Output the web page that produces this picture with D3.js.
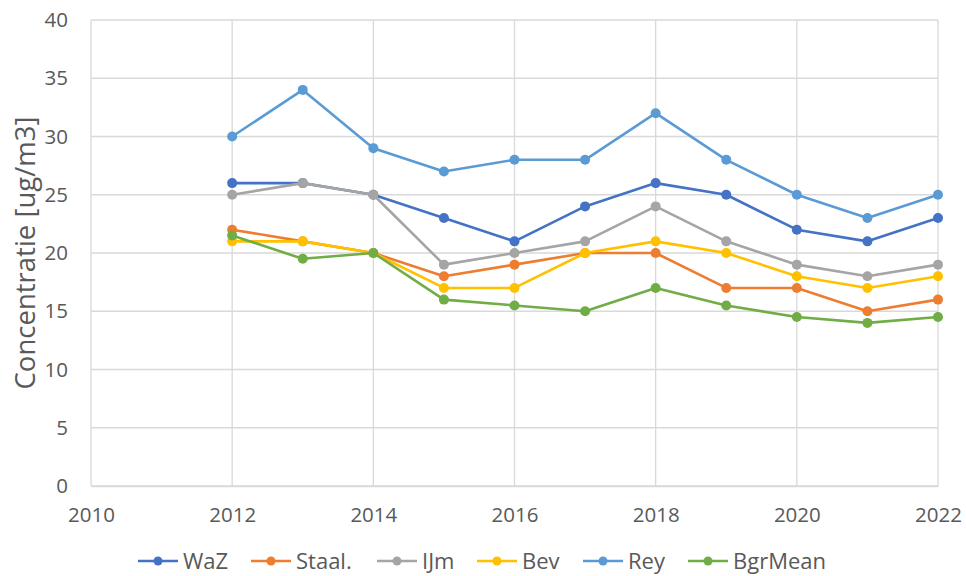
<!DOCTYPE html>
<html><head><meta charset="utf-8">
<script src="https://cdn.jsdelivr.net/npm/d3@7"></script>
<style>body{margin:0;background:#fff}svg{display:block}</style>
</head><body>
<svg id="c" width="966" height="576"></svg>
<script>
const years = [2012,2013,2014,2015,2016,2017,2018,2019,2020,2021,2022];
const seriesNames = ["WaZ","Staal.","IJm","Bev","Rey","BgrMean"];
const WaZ     = [26,26,25,23,21,24,26,25,22,21,23];
const Staal   = [22,21,20,18,19,20,20,17,17,15,16];
const IJm     = [25,26,25,19,20,21,24,21,19,18,19];
const Bev     = [21,21,20,17,17,20,21,20,18,17,18];
const Rey     = [30,34,29,27,28,28,32,28,25,23,25];
const BgrMean = [21.5,19.5,20,16,15.5,15,17,15.5,14.5,14,14.5];
const xTicks = [2010,2012,2014,2016,2018,2020,2022];
const yTicks = [0,5,10,15,20,25,30,35,40];
const colors = ["#4472C4","#ED7D31","#A5A5A5","#FFC000","#5B9BD5","#70AD47"];
const seriesValues = [WaZ,Staal,IJm,Bev,Rey,BgrMean];

const font = "'Open Sans', 'Liberation Sans', sans-serif";
const svg = d3.select("#c");
const L=91, R=938, T=20, B=486;
const x = d3.scaleLinear().domain([2010,2022]).range([L,R]);
const y = d3.scaleLinear().domain([0,40]).range([B,T]);

// gridlines
svg.append("g").selectAll("line").data(yTicks).join("line")
  .attr("x1",L).attr("x2",R).attr("y1",d=>y(d)).attr("y2",d=>y(d))
  .attr("stroke","#D9D9D9").attr("stroke-width",1.3);
svg.append("g").selectAll("line").data(xTicks).join("line")
  .attr("x1",d=>x(d)).attr("x2",d=>x(d)).attr("y1",T).attr("y2",B)
  .attr("stroke","#D9D9D9").attr("stroke-width",1.3);

// axes
const ya = svg.append("g").attr("transform",`translate(${L},0)`)
  .call(d3.axisLeft(y).tickValues(yTicks).tickSize(0).tickPadding(23));
ya.select(".domain").remove();
ya.selectAll("text").attr("font-family",font).attr("font-size",20.5).attr("fill","#595959");

const xa = svg.append("g").attr("transform",`translate(0,${B})`)
  .call(d3.axisBottom(x).tickValues(xTicks).tickFormat(d3.format("d")).tickSize(0).tickPadding(21));
xa.select(".domain").attr("stroke","#D9D9D9").attr("stroke-width",1.3);
xa.selectAll("text").attr("font-family",font).attr("font-size",20.5).attr("fill","#595959");

// axis title
svg.append("text").attr("transform",`translate(35,${(T+B)/2}) rotate(-90)`)
  .attr("text-anchor","middle").attr("font-family",font).attr("font-size",27.5)
  .attr("fill","#595959").text("Concentratie [ug/m3]");

// series
const line = d3.line().x((d,i)=>x(years[i])).y(d=>y(d));
seriesValues.forEach((vals,k)=>{
  const g = svg.append("g");
  g.append("path").datum(vals).attr("d",line).attr("fill","none")
    .attr("stroke",colors[k]).attr("stroke-width",2.6).attr("stroke-linejoin","round");
  g.selectAll("circle").data(vals).join("circle")
    .attr("cx",(d,i)=>x(years[i])).attr("cy",d=>y(d)).attr("r",5).attr("fill",colors[k]);
});

// legend
const legendX = [138,251,377,477,583,688];
const ly = 561;
const lg = svg.append("g");
seriesNames.forEach((n,k)=>{
  const gx = legendX[k];
  lg.append("line").attr("x1",gx).attr("x2",gx+40).attr("y1",ly).attr("y2",ly)
    .attr("stroke",colors[k]).attr("stroke-width",2.6);
  lg.append("circle").attr("cx",gx+20).attr("cy",ly).attr("r",4.5).attr("fill",colors[k]);
  lg.append("text").attr("x",gx+45).attr("y",ly).attr("dy","0.35em")
    .attr("font-family",font).attr("font-size",22).attr("fill","#595959").text(n);
});
</script>
</body></html>
